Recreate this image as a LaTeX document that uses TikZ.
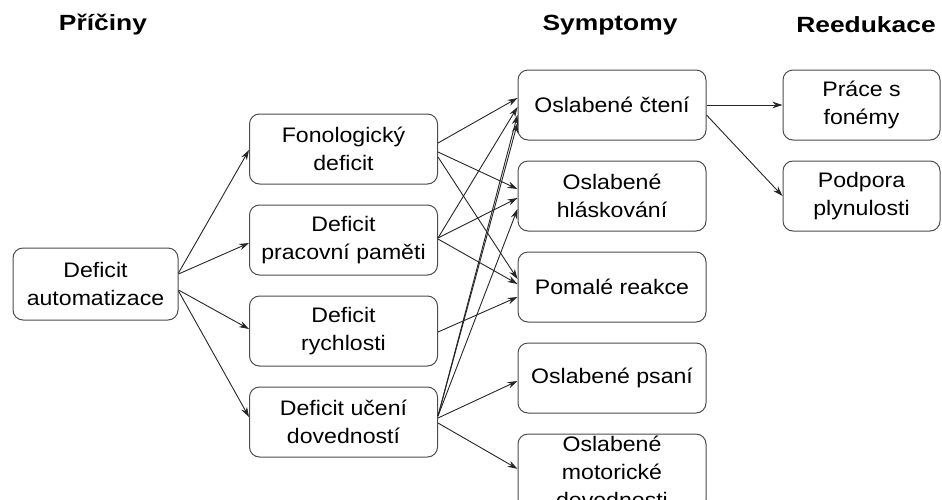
\documentclass[tikz,border=0pt]{standalone}
\usepackage{fontspec}
\setmainfont{Liberation Sans}[FakeStretch=1.1]
\newfontfamily\headfont{Liberation Sans}[FakeStretch=1.2]
\usetikzlibrary{arrows.meta, positioning}

\begin{document}
\begin{tikzpicture}[
    x=1pt, y=1pt,
    node distance=20pt and 70pt,
    every node/.style={font=\fontsize{21}{28}\selectfont},
    box/.style={rectangle, draw=black!70, line width=1pt, rounded corners=10pt, align=center, minimum width=188pt, minimum height=70pt, inner sep=2pt},
    head/.style={font=\headfont\bfseries\fontsize{22}{26}\selectfont},
    arrow/.style={-{Stealth[length=10pt, width=6.5pt]}, line width=0.9pt, draw=black!85}
]
    \useasboundingbox (0,0) rectangle (942,-499);

    % Headers
    \node[head] (hcause) at (103,-25) {Příčiny};
    \node[head] (hsympt) at (610,-25) {Symptomy};
    \node[head] (hreed) at (866,-25) {Reedukace};

    % Cause
    \node[box, minimum width=165pt, minimum height=72pt] (auto) at (95.5,-284) {Deficit\\automatizace};

    % Deficits
    \node[box] (fono) at (343.5,-149) {Fonologický\\deficit};
    \node[box, below=of fono] (pamet) {Deficit\\pracovní paměti};
    \node[box, below=of pamet] (rychl) {Deficit\\rychlosti};
    \node[box, below=of rychl] (uceni) {Deficit učení\\dovedností};

    % Symptoms
    \node[box] (cteni) at (612,-105) {Oslabené čtení};
    \node[box, below=of cteni] (hlask) {Oslabené\\hláskování};
    \node[box, below=of hlask] (pomal) {Pomalé reakce};
    \node[box, below=of pomal] (psani) {Oslabené psaní};
    \node[box, below=of psani] (motor) {Oslabené\\motorické\\dovednosti};

    % Re-education
    \node[box, minimum width=157pt] (fonem) at (861.5,-105) {Práce s\\fonémy};
    \node[box, minimum width=157pt, below=of fonem] (plyn) {Podpora\\plynulosti};

    % Cause -> deficits
    \draw[arrow] ([yshift=11pt]auto.east) -- ([yshift=-1pt]fono.west);
    \draw[arrow] ([yshift=10pt]auto.east) -- ([yshift=-3pt]pamet.west);
    \draw[arrow] ([yshift=-6pt]auto.east) -- ([yshift=2pt]rychl.west);
    \draw[arrow] ([yshift=-7pt]auto.east) -- ([yshift=5pt]uceni.west);

    % Deficits -> symptoms
    \draw[arrow] ([yshift=6pt]fono.east) -- ([yshift=7pt]cteni.west);
    \draw[arrow] ([yshift=-3pt]fono.east) -- ([yshift=7pt]hlask.west);
    \draw[arrow] ([yshift=-8pt]fono.east) -- ([yshift=8pt]pomal.west);
    \draw[arrow] ([yshift=2pt]pamet.east) -- ([yshift=-2pt]cteni.west);
    \draw[arrow] ([yshift=2pt]pamet.east) -- ([yshift=-2pt]hlask.west);
    \draw[arrow] ([yshift=1pt]pamet.east) -- ([yshift=3pt]pomal.west);
    \draw[arrow] ([yshift=-1pt]rychl.east) -- ([yshift=-10pt]pomal.west);
    \draw[arrow] ([yshift=6pt]uceni.east) -- ([yshift=-10pt]cteni.west);
    \draw[arrow] ([yshift=6pt]uceni.east) -- ([yshift=-18pt]cteni.west);
    \draw[arrow] ([yshift=6pt]uceni.east) -- ([yshift=-13pt]hlask.west);
    \draw[arrow] ([yshift=4pt]uceni.east) -- ([yshift=-3pt]psani.west);
    \draw[arrow] ([yshift=-1pt]uceni.east) -- ([yshift=3pt]motor.west);

    % Symptom -> re-education
    \draw[arrow] (cteni.east) -- (fonem.west);
    \draw[arrow] ([yshift=-10pt]cteni.east) -- (plyn.west);
\end{tikzpicture}
\end{document}
